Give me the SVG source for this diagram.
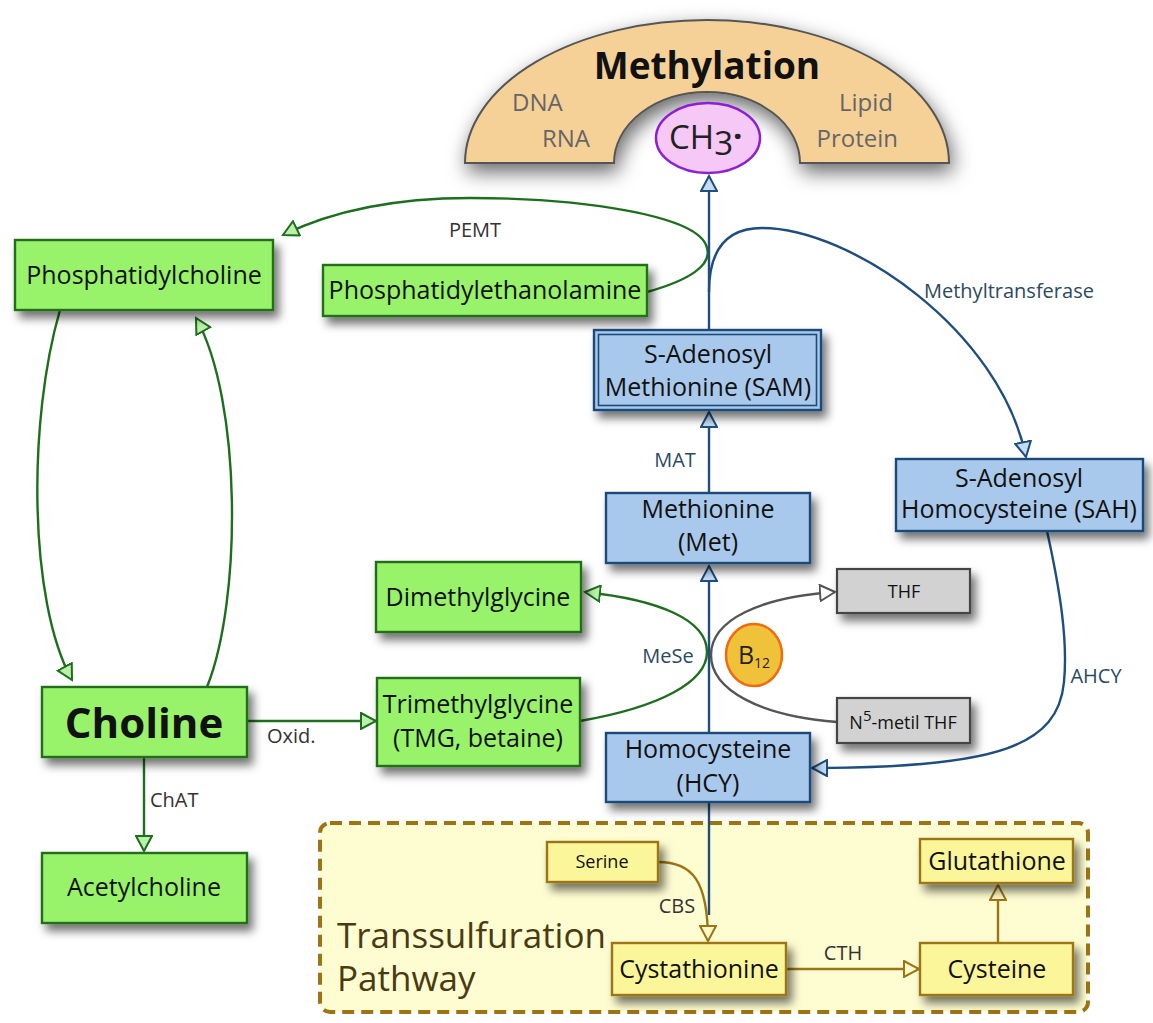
<svg xmlns="http://www.w3.org/2000/svg" width="1153" height="1023" viewBox="0 0 1153 1023">
<defs>
<style>
text{font-family:"Open Sans","DejaVu Sans",sans-serif;}
.nt{font-size:25px;fill:#111;text-anchor:middle;}
.lb{font-size:20px;fill:#333;}
.lbb{font-size:20px;fill:#2b4a62;}
.g{fill:#98f36a;stroke:#236e1b;stroke-width:2.4;}
.b{fill:#a9c9ec;stroke:#1d4a7a;stroke-width:2.4;}
.gr{fill:#d2d2d2;stroke:#444;stroke-width:2.2;}
.y{fill:#fcf69a;stroke:#9c7415;stroke-width:2.4;}
.cg{fill:none;stroke:#1e6e1e;stroke-width:2.4;}
.cb{fill:none;stroke:#1f4e7e;stroke-width:2.4;}
.cgr{fill:none;stroke:#555;stroke-width:2.4;}
.cy{fill:none;stroke:#9c7415;stroke-width:2.4;}
</style>
<filter id="sh" x="-20%" y="-30%" width="150%" height="180%">
<feDropShadow dx="5" dy="7" stdDeviation="5" flood-color="#000" flood-opacity="0.55"/>
</filter>
<filter id="sh2" x="-20%" y="-30%" width="140%" height="170%">
<feDropShadow dx="3" dy="8" stdDeviation="10" flood-color="#000" flood-opacity="0.6"/>
</filter>
<marker id="ag" viewBox="0 0 18 18" refX="16" refY="9" markerWidth="18" markerHeight="18" orient="auto" markerUnits="userSpaceOnUse"><path d="M1,1 L16,9 L1,17 Z" fill="#b8f2a8" stroke="#1e6e1e" stroke-width="2"/></marker>
<marker id="ab" viewBox="0 0 18 18" refX="16" refY="9" markerWidth="18" markerHeight="18" orient="auto" markerUnits="userSpaceOnUse"><path d="M1,1 L16,9 L1,17 Z" fill="#c4dcf4" stroke="#1f4e7e" stroke-width="2"/></marker>
<marker id="agr" viewBox="0 0 18 18" refX="16" refY="9" markerWidth="18" markerHeight="18" orient="auto" markerUnits="userSpaceOnUse"><path d="M1,1 L16,9 L1,17 Z" fill="#fff" stroke="#555" stroke-width="2"/></marker>
<marker id="ay" viewBox="0 0 18 18" refX="16" refY="9" markerWidth="18" markerHeight="18" orient="auto" markerUnits="userSpaceOnUse"><path d="M1,1 L16,9 L1,17 Z" fill="#fff8c8" stroke="#9c7415" stroke-width="2"/></marker>
</defs>
<rect width="1153" height="1023" fill="#fff"/>

<g id="transsulfuration">
<rect x="320" y="823" width="768" height="189" rx="10" fill="#fefdd2" stroke="#9c7415" stroke-width="4" stroke-dasharray="12,7"/>
<text x="337" y="948" font-size="35" fill="#4a3a12">Transsulfuration</text>
<text x="337" y="991" font-size="35" fill="#4a3a12">Pathway</text>
</g>

<g id="methylation">
<path d="M465,163 A242,143 0 0 1 949,163 L800,163 A93,71 0 0 0 614,163 Z" fill="#f5d198" stroke="#555" stroke-width="2" filter="url(#sh2)"/>
<text x="707" y="79" font-size="37" font-weight="bold" fill="#111" text-anchor="middle">Methylation</text>
<text x="512" y="111" font-size="24" fill="#666">DNA</text>
<text x="590" y="147" font-size="24" fill="#666" text-anchor="end">RNA</text>
<text x="893" y="111" font-size="24" fill="#666" text-anchor="end">Lipid</text>
<text x="898" y="147" font-size="24" fill="#666" text-anchor="end">Protein</text>
</g>

<g id="ch3">
<ellipse cx="708" cy="138" rx="52" ry="35" fill="#f5c8f5" stroke="#8a1fd6" stroke-width="2.5"/>
<text x="669" y="149" font-size="33" fill="#222">CH<tspan dy="6">3</tspan><tspan dy="-7" font-weight="bold">·</tspan></text>
</g>

<g id="connectors">
<path class="cg" d="M647,292 C690,280 712,265 707,248 C700,215 580,198 470,198 C390,198 330,212 283,235" marker-end="url(#ag)"/>
<path class="cg" d="M60,310 C28,420 28,600 72,680" marker-end="url(#ag)"/>
<path class="cg" d="M207,687 C242,600 242,400 196,318" marker-end="url(#ag)"/>
<path class="cg" d="M247,721 L376,721" marker-end="url(#ag)"/>
<path class="cg" d="M144,757 L144,851" marker-end="url(#ag)"/>
<path class="cg" d="M580,721 C660,707 707,682 707,652 C707,620 660,600 585,592" marker-end="url(#ag)"/>
<path class="cgr" d="M837,722 C760,716 711,690 711,655 C711,620 760,597 835,592" marker-end="url(#agr)"/>
<path class="cb" d="M709,330 L709,176" marker-end="url(#ab)"/>
<path class="cb" d="M709,493 L709,412" marker-end="url(#ab)"/>
<path class="cb" d="M709,733 L709,566" marker-end="url(#ab)"/>
<path class="cb" d="M709,292 C709,252 725,228 762,228 C850,228 1000,330 1026,457" marker-end="url(#ab)"/>
<path class="cb" d="M1047,531 C1060,590 1068,640 1064,682 C1058,745 1000,768 812,768" marker-end="url(#ab)"/>
<path class="cb" d="M709,802 L709,915"/>
<path class="cy" d="M658,862 C692,862 708,880 708,941" marker-end="url(#ay)"/>
<path class="cy" d="M786,969 L919,969" marker-end="url(#ay)"/>
<path class="cy" d="M998,943 L998,885" marker-end="url(#ay)"/>
</g>

<g id="labels">
<text class="lb" x="475" y="237" text-anchor="middle">PEMT</text>
<text class="lbb" x="924" y="298">Methyltransferase</text>
<text class="lbb" x="675" y="467" text-anchor="middle">MAT</text>
<text class="lbb" x="668" y="663" text-anchor="middle">MeSe</text>
<text class="lbb" x="1096" y="683" text-anchor="middle">AHCY</text>
<text class="lb" x="267" y="743">Oxid.</text>
<text class="lb" x="150" y="807">ChAT</text>
<text class="lb" x="677" y="913" text-anchor="middle">CBS</text>
<text class="lb" x="843" y="960" text-anchor="middle">CTH</text>
</g>

<g id="phosphatidylcholine"><rect class="g" x="15" y="240" width="258" height="70" filter="url(#sh)"/><text class="nt" x="144" y="284">Phosphatidylcholine</text></g>
<g id="phosphatidylethanolamine"><rect class="g" x="323" y="265" width="324" height="51" filter="url(#sh)"/><text class="nt" x="485" y="299">Phosphatidylethanolamine</text></g>
<g id="sam"><rect class="b" x="594" y="330" width="227" height="80" filter="url(#sh)"/><rect x="598.5" y="334.5" width="218" height="71" fill="none" stroke="#1d4a7a" stroke-width="1.6"/><text class="nt" x="708" y="363">S-Adenosyl</text><text class="nt" x="708" y="396">Methionine (SAM)</text></g>
<g id="met"><rect class="b" x="606" y="493" width="204" height="70" filter="url(#sh)"/><text class="nt" x="708" y="518">Methionine</text><text class="nt" x="708" y="551">(Met)</text></g>
<g id="sah"><rect class="b" x="896" y="459" width="247" height="72" filter="url(#sh)"/><text class="nt" x="1019" y="487">S-Adenosyl</text><text class="nt" x="1019" y="518">Homocysteine (SAH)</text></g>
<g id="dimethylglycine"><rect class="g" x="376" y="562" width="205" height="70" filter="url(#sh)"/><text class="nt" x="478" y="606">Dimethylglycine</text></g>
<g id="thf"><rect class="gr" x="837" y="569" width="133" height="44" filter="url(#sh)"/><text x="904" y="598" font-size="18" fill="#111" text-anchor="middle">THF</text></g>
<g id="b12"><ellipse cx="754" cy="655" rx="28" ry="31" fill="#f0c23a" stroke="#f26a10" stroke-width="2.5"/><text x="754" y="664" font-size="25" fill="#222" text-anchor="middle">B<tspan font-size="14" dy="4">12</tspan></text></g>
<g id="n5thf"><rect class="gr" x="837" y="698" width="133" height="45" filter="url(#sh)"/><text x="903" y="729" font-size="18" fill="#111" text-anchor="middle">N<tspan font-size="15" dy="-8">5</tspan><tspan dy="8">-metil THF</tspan></text></g>
<g id="choline"><rect class="g" x="42" y="687" width="205" height="70" filter="url(#sh)"/><text x="144" y="738" font-size="42" font-weight="bold" fill="#111" text-anchor="middle">Choline</text></g>
<g id="tmg"><rect class="g" x="377" y="678" width="203" height="88" filter="url(#sh)"/><text class="nt" x="478" y="713">Trimethylglycine</text><text class="nt" x="478" y="747">(TMG, betaine)</text></g>
<g id="hcy"><rect class="b" x="606" y="733" width="204" height="69" filter="url(#sh)"/><text class="nt" x="708" y="758">Homocysteine</text><text class="nt" x="708" y="792">(HCY)</text></g>
<g id="acetylcholine"><rect class="g" x="42" y="853" width="205" height="70" filter="url(#sh)"/><text class="nt" x="144" y="896">Acetylcholine</text></g>
<g id="serine"><rect class="y" x="547" y="842" width="111" height="40" filter="url(#sh)"/><text x="602" y="868" font-size="18" fill="#111" text-anchor="middle">Serine</text></g>
<g id="glutathione"><rect class="y" x="920" y="839" width="153" height="44" filter="url(#sh)"/><text class="nt" x="997" y="870">Glutathione</text></g>
<g id="cystathionine"><rect class="y" x="612" y="943" width="174" height="52" filter="url(#sh)"/><text class="nt" x="699" y="978">Cystathionine</text></g>
<g id="cysteine"><rect class="y" x="920" y="943" width="153" height="52" filter="url(#sh)"/><text class="nt" x="997" y="978">Cysteine</text></g>
</svg>
